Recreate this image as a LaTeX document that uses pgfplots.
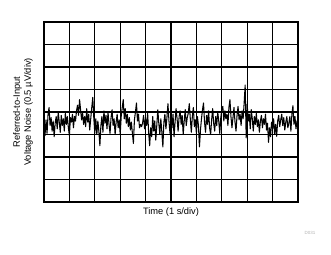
\documentclass[border=0pt]{standalone}
\usepackage{fontspec}
\setmainfont{Liberation Sans}
\usepackage{pgfplots}
\pgfplotsset{compat=1.18}
\usepackage{pgfplotstable}
\pgfplotstableread{
x y
0.00 -0.70
0.04 -1.05
0.08 -0.35
0.12 -0.95
0.16 -0.10
0.20 0.20
0.24 -0.60
0.28 -0.25
0.32 -0.85
0.36 -0.40
0.40 -1.10
0.44 -0.50
0.48 -0.20
0.52 -0.75
0.56 0.00
0.60 -0.45
0.64 -0.90
0.68 -0.15
0.72 -0.60
0.76 -0.30
0.80 -0.85
0.84 -0.05
0.88 -0.55
0.92 -0.20
0.96 -0.70
1.00 -1.05
1.04 -0.25
1.08 -0.45
1.12 -0.10
1.16 -0.70
1.20 -0.20
1.24 -0.40
1.28 0.05
1.32 0.30
1.36 -0.15
1.40 0.55
1.44 0.10
1.48 -0.35
1.52 -0.05
1.56 -0.55
1.60 -0.20
1.64 -0.65
1.68 0.15
1.72 -0.45
1.76 -0.10
1.80 -0.80
1.84 -0.30
1.88 0.20
1.92 0.65
1.96 -0.25
2.00 -0.95
2.04 -0.30
2.08 -1.00
2.12 -0.40
2.16 -0.85
2.20 -1.50
2.24 -0.60
2.28 -0.20
2.32 -0.90
2.36 0.05
2.40 -0.50
2.44 -0.15
2.48 -0.75
2.52 0.00
2.56 -0.55
2.60 -0.95
2.64 -0.25
2.68 0.10
2.72 -0.60
2.76 -0.30
2.80 -1.00
2.84 -0.45
2.88 -0.10
2.92 -0.70
2.96 -0.35
3.00 -1.00
3.04 -0.20
3.08 0.20
3.12 0.55
3.16 -0.30
3.20 0.15
3.24 -0.50
3.28 -0.10
3.32 -0.65
3.36 -0.25
3.40 -0.80
3.44 -0.45
3.48 -0.95
3.52 -1.40
3.56 -0.35
3.60 0.00
3.64 0.40
3.68 -0.40
3.72 -0.10
3.76 -0.70
3.80 -0.55
3.84 -0.65
3.88 -0.50
3.92 -0.15
3.96 -0.75
4.00 -0.30
4.04 -0.60
4.08 -0.05
4.12 -0.90
4.16 -1.50
4.20 -0.70
4.24 -1.10
4.28 -0.20
4.32 -0.85
4.36 -0.40
4.40 -1.25
4.44 -0.60
4.48 0.10
4.52 -0.50
4.56 -1.00
4.60 -0.30
4.64 -0.90
4.68 -1.55
4.72 -0.45
4.76 -0.10
4.80 -0.75
4.84 -0.25
4.88 0.37
4.92 -0.40
4.96 -0.95
5.00 -0.35
5.04 -0.70
5.08 -0.10
5.12 -1.10
5.16 -0.45
5.20 0.15
5.24 -0.30
5.28 -0.85
5.32 -0.20
5.36 0.05
5.40 -0.55
5.44 -0.15
5.48 -1.00
5.52 -0.40
5.56 0.10
5.60 -0.60
5.64 -0.25
5.68 -0.05
5.72 0.37
5.76 -0.30
5.80 -0.90
5.84 -0.20
5.88 0.20
5.92 -0.65
5.96 -0.35
6.00 -0.95
6.04 -0.20
6.08 -0.60
6.12 -1.55
6.16 -0.80
6.20 -0.30
6.24 0.10
6.28 0.40
6.32 -0.45
6.36 -0.90
6.40 -0.15
6.44 -0.55
6.48 0.05
6.52 -0.70
6.56 -1.00
6.60 -0.35
6.64 0.15
6.68 -0.50
6.72 -0.85
6.76 -0.20
6.80 -0.60
6.84 0.00
6.88 -0.40
6.92 -0.95
6.96 -0.25
7.00 0.10
7.04 0.25
7.08 -0.40
7.12 0.05
7.16 -0.30
7.20 -0.10
7.24 -0.60
7.28 0.20
7.32 0.55
7.36 -0.20
7.40 -0.70
7.44 -0.25
7.48 0.20
7.52 -0.45
7.56 -0.85
7.60 -0.15
7.64 0.25
7.68 -0.35
7.72 -0.10
7.76 -0.60
7.80 0.05
7.84 -0.30
7.88 0.40
7.92 1.20
7.96 -1.15
8.00 0.35
8.04 -0.40
8.08 -0.10
8.12 -0.75
8.16 0.10
8.20 -0.30
8.24 -0.85
8.28 -0.20
8.32 -0.55
8.36 -0.05
8.40 -0.65
8.44 -0.35
8.48 -0.90
8.52 -0.40
8.56 -0.15
8.60 -0.70
8.64 -0.30
8.68 -0.55
8.72 -0.10
8.76 -0.80
8.80 -0.50
8.84 -1.35
8.88 -0.70
8.92 -1.10
8.96 -0.45
9.00 -0.75
9.04 -0.30
9.08 -1.00
9.12 -0.55
9.16 -1.08
9.20 -0.40
9.24 -0.15
9.28 -0.65
9.32 -0.35
9.36 -0.10
9.40 -0.60
9.44 -0.25
9.48 -0.80
9.52 -0.45
9.56 -0.20
9.60 -0.70
9.64 -0.50
9.68 -0.20
9.72 -0.85
9.76 -0.10
9.80 0.28
9.84 -0.55
9.88 -0.20
9.92 -0.75
9.96 -0.40
10.00 -0.65
}\noisedata
\begin{document}
\begin{tikzpicture}
\path[use as bounding box] (-44pt,-52pt) rectangle (287pt,202pt);
\begin{axis}[
  at={(0,0)}, anchor=south west,
  scale only axis, width=254pt, height=180pt,
  xmin=0, xmax=10, ymin=-4, ymax=4,
  xtick={0,1,...,10}, ytick={-4,-3,...,4},
  xticklabels={}, yticklabels={},
  major tick length=0pt,
  grid=major,
  major grid style={black, line width=1.1pt},
  axis line style={black, line width=1.1pt},
  font=\fontsize{9.3}{11}\selectfont,
  xlabel={Time (1 s/div)},
  xlabel style={at={(axis description cs:0.5,0)}, anchor=north, yshift=-2.5pt},
  ylabel={Referred-to-Input\\Voltage Noise (0.5 µV/div)},
  ylabel style={at={(axis description cs:-0.03,0.5)}, anchor=south, align=center},
  clip=true,
]
\addplot[black, line width=1.05pt, line join=round] table[x=x, y=y] {\noisedata};
\end{axis}
\node[text=black!30, font=\fontsize{4.5}{5}\selectfont] at (266pt,-31pt) {D031};
\end{tikzpicture}
\end{document}
